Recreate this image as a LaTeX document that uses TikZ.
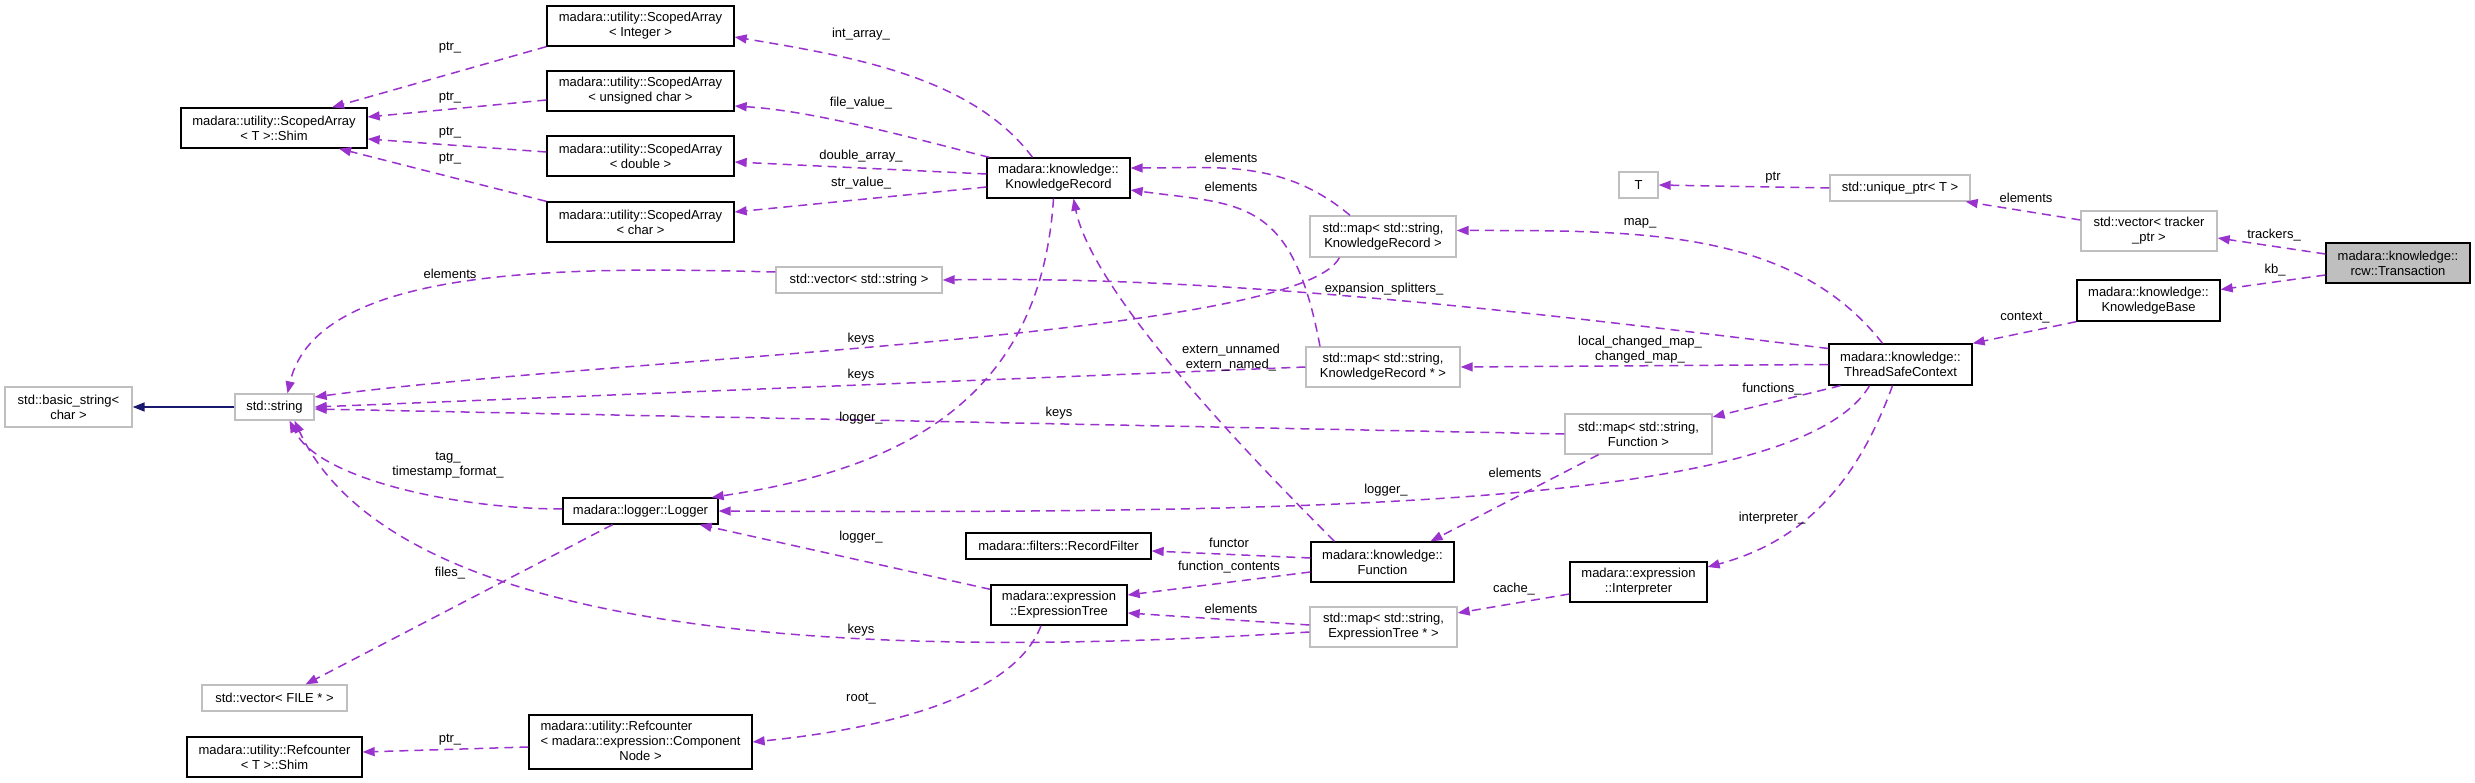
\documentclass[tikz,border=0pt]{standalone}
\usepackage{fontspec}
\setmainfont{Liberation Sans}
\usetikzlibrary{arrows.meta}

\definecolor{edgepurple}{RGB}{154,50,205}
\definecolor{inhblue}{RGB}{25,25,112}
\definecolor{extgray}{RGB}{191,191,191}

\begin{document}
\begin{tikzpicture}[x=1pt, y=1pt, >={Triangle[length=12pt,width=9pt]},
    font=\fontsize{13}{15}\selectfont,
    classbox/.style={rectangle, inner sep=0pt, align=center, minimum height=40, line width=1.3pt},
    cls/.style={classbox, draw=black},
    ext/.style={classbox, draw=extgray},
    cur/.style={classbox, draw=black, fill=extgray},
    uses/.style={->, edgepurple, line width=1.5pt, dash pattern=on 9pt off 6pt},
    inh/.style={->, inhblue, line width=1.5pt},
    lbl/.style={inner sep=0pt, align=center}]
  \useasboundingbox (0,0) rectangle (2475,-783);

  \node[cls, minimum width=187] (saInt) at (640.5,-26) {madara::utility::ScopedArray\\< Integer >};
  \node[cls, minimum width=187] (saUChar) at (640.5,-91) {madara::utility::ScopedArray\\< unsigned char >};
  \node[cls, minimum width=187] (saDouble) at (640.5,-156) {madara::utility::ScopedArray\\< double >};
  \node[cls, minimum width=187] (saChar) at (640.5,-222) {madara::utility::ScopedArray\\< char >};
  \node[cls, minimum width=186] (saShim) at (274,-128) {madara::utility::ScopedArray\\< T >::Shim};
  \node[cls, minimum width=143] (kRecord) at (1058.5,-178) {madara::knowledge::\\KnowledgeRecord};
  \node[ext, minimum width=146, minimum height=41] (mapRec) at (1383,-236.5) {std::map< std::string,\\ KnowledgeRecord >};
  \node[ext, minimum width=39, minimum height=26] (tT) at (1638.5,-185) {T};
  \node[ext, minimum width=140, minimum height=26] (uPtr) at (1900,-188) {std::unique\_ptr< T >};
  \node[ext, minimum width=136] (vecTrk) at (2149,-231) {std::vector< tracker\\\_ptr >};
  \node[cur, minimum width=144] (trans) at (2398,-263) {madara::knowledge::\\rcw::Transaction};
  \node[cls, minimum width=143, minimum height=41] (kBase) at (2148.5,-300.5) {madara::knowledge::\\KnowledgeBase};
  \node[cls, minimum width=143, minimum height=41] (tsc) at (1900.5,-364.5) {madara::knowledge::\\ThreadSafeContext};
  \node[ext, minimum width=166, minimum height=26] (vecStr) at (859,-280) {std::vector< std::string >};
  \node[ext, minimum width=127] (bStr) at (68.5,-407) {std::basic\_string<\\ char >};
  \node[ext, minimum width=79, minimum height=26] (str) at (274.5,-407) {std::string};
  \node[ext, minimum width=154] (mapRecP) at (1383,-367) {std::map< std::string,\\ KnowledgeRecord * >};
  \node[ext, minimum width=147] (mapFn) at (1638.5,-434) {std::map< std::string,\\ Function >};
  \node[cls, minimum width=155, minimum height=26] (logger) at (640.5,-511) {madara::logger::Logger};
  \node[cls, minimum width=185, minimum height=26] (recFilter) at (1058.5,-546) {madara::filters::RecordFilter};
  \node[cls, minimum width=143] (func) at (1382.5,-562) {madara::knowledge::\\Function};
  \node[cls, minimum width=136] (exprTree) at (1059,-605) {madara::expression\\::ExpressionTree};
  \node[cls, minimum width=137] (interp) at (1638.5,-582) {madara::expression\\::Interpreter};
  \node[ext, minimum width=147] (mapExpr) at (1383.5,-627) {std::map< std::string,\\ ExpressionTree * >};
  \node[ext, minimum width=145, minimum height=26] (vecFile) at (274.5,-698) {std::vector< FILE * >};
  \node[cls, minimum width=175] (rcShim) at (274.5,-757) {madara::utility::Refcounter\\< T >::Shim};
  \node[cls, minimum width=223, minimum height=54] (rcNode) at (640.5,-742) {\begin{tabular}{@{}l@{}}madara::utility::Refcounter\\< madara::expression::Component\\\multicolumn{1}{@{}c@{}}{Node >}\end{tabular}};

  \draw[uses] (saInt.south west) -- ([xshift=58]saShim.north);
  \draw[uses] ([yshift=-9]saUChar.west) -- ([yshift=11]saShim.east);
  \draw[uses] ([yshift=4]saDouble.west) -- ([yshift=-11]saShim.east);
  \draw[uses] (saChar.north west) -- ([xshift=65]saShim.south);
  \draw[uses] ([xshift=-26]kRecord.north) .. controls +(-60,80) and +(120,-20) .. ([yshift=-11]saInt.east);
  \draw[uses] ([xshift=3]kRecord.north west) .. controls +(-80,20) and +(80,-5) .. ([yshift=-15]saUChar.east);
  \draw[uses] ([yshift=4]kRecord.west) -- ([yshift=-6]saDouble.east);
  \draw[uses] ([yshift=-9]kRecord.west) -- ([yshift=10]saChar.east);
  \draw[uses] ([xshift=-33]mapRec.north) to[out=140,in=0] ([yshift=10]kRecord.east);
  \draw[uses] ([xshift=-63]mapRecP.north) .. controls +(-28,150) and +(110,-15) .. ([yshift=-12]kRecord.east);
  \draw[uses] ([xshift=-48]func.north) .. controls +(-60,60) and +(20,-100) .. ([xshift=15]kRecord.south);
  \draw[uses] ([xshift=-5]kRecord.south) .. controls +(-13,-202) and +(189,28) .. ([xshift=-7]logger.north east);
  \draw[uses] ([yshift=8]vecStr.west) .. controls +(-200,5) and +(30,130) .. ([xshift=13]str.north);
  \draw[uses] ([xshift=30]mapRec.south west) .. controls +(-40,-80) and +(300,40) .. ([yshift=10]str.east);
  \draw[uses] (mapRecP.west) -- (str.east);
  \draw[uses] (mapFn.west) -- ([yshift=-2]str.east);
  \draw[uses] ([yshift=-5]mapExpr.west) .. controls +(-250,-15) and +(120,-260) .. ([xshift=20]str.south);
  \draw[uses] ([yshift=2]logger.west) .. controls +(-100,0) and +(30,-60) .. ([xshift=15]str.south);
  \draw[inh] (str.west) -- (bStr.east);
  \draw[uses] ([xshift=-18]tsc.north) .. controls +(-90,115) and +(180,0) .. ([yshift=6]mapRec.east);
  \draw[uses] ([yshift=16]tsc.west) .. controls +(-250,30) and +(300,5) .. (vecStr.east);
  \draw[uses] (tsc.west) -- (mapRecP.east);
  \draw[uses] ([xshift=-60]tsc.south) -- ([yshift=17]mapFn.east);
  \draw[uses] ([xshift=-31]tsc.south) .. controls +(-70,-120) and +(600,-3) .. (logger.east);
  \draw[uses] ([xshift=-8]tsc.south) to[out=-110,in=15] ([yshift=15]interp.east);
  \draw[uses] (kBase.south west) -- (tsc.north east);
  \draw[uses] ([yshift=9]trans.west) -- ([yshift=-7]vecTrk.east);
  \draw[uses] ([yshift=-12]trans.west) -- ([yshift=11]kBase.east);
  \draw[uses] ([yshift=11]vecTrk.west) -- ([xshift=-5]uPtr.south east);
  \draw[uses] (uPtr.west) -- (tT.east);
  \draw[uses] ([xshift=-40]mapFn.south) -- ([xshift=48]func.north);
  \draw[uses] ([yshift=4]func.west) -- ([yshift=-5]recFilter.east);
  \draw[uses] ([yshift=-10]func.west) -- ([yshift=10]exprTree.east);
  \draw[uses] ([yshift=-5]exprTree.north west) -- ([xshift=-19]logger.south east);
  \draw[uses] ([yshift=2]mapExpr.west) -- ([yshift=-8]exprTree.east);
  \draw[uses] ([yshift=-12]interp.west) -- ([yshift=14]mapExpr.east);
  \draw[uses] ([xshift=-18]exprTree.south) .. controls +(-30,-80) and +(100,10) .. (rcNode.east);
  \draw[uses] ([yshift=-5]rcNode.west) -- ([yshift=5]rcShim.east);
  \draw[uses] ([xshift=-28]logger.south) -- ([xshift=31]vecFile.north);

  \node[lbl] (lPtrA) at (450,-48) {ptr\_};
  \node[lbl] (lPtrB) at (450,-98) {ptr\_};
  \node[lbl] (lPtrC) at (450,-133) {ptr\_};
  \node[lbl] (lPtrD) at (450,-159) {ptr\_};
  \node[lbl] (lIntArr) at (861,-34) {int\_array\_};
  \node[lbl] (lFileVal) at (861,-103) {file\_value\_};
  \node[lbl] (lDblArr) at (861,-156) {double\_array\_};
  \node[lbl] (lStrVal) at (861,-183) {str\_value\_};
  \node[lbl] (lElemA) at (1231,-158) {elements};
  \node[lbl] (lElemB) at (1231,-187) {elements};
  \node[lbl] (lMap) at (1640,-223) {map\_};
  \node[lbl] (lPtrE) at (1773,-178) {ptr};
  \node[lbl] (lElemC) at (2026,-198) {elements};
  \node[lbl] (lTrk) at (2274,-235) {trackers\_};
  \node[lbl] (lKb) at (2275,-270) {kb\_};
  \node[lbl] (lCtx) at (2025,-318) {context\_};
  \node[lbl] (lElemD) at (450,-274) {elements};
  \node[lbl] (lTag) at (448,-465) {tag\_\\timestamp\_format\_};
  \node[lbl] (lExp) at (1384,-289) {expansion\_splitters\_};
  \node[lbl] (lKeysA) at (861,-339) {keys};
  \node[lbl] (lKeysB) at (861,-375) {keys};
  \node[lbl] (lKeysC) at (1059,-413) {keys};
  \node[lbl] (lLogA) at (861,-418) {logger\_};
  \node[lbl] (lExt) at (1231,-358) {extern\_unnamed\\extern\_named\_};
  \node[lbl] (lChg) at (1640,-350) {local\_changed\_map\_\\changed\_map\_};
  \node[lbl] (lElemE) at (1515,-473) {elements};
  \node[lbl] (lLogB) at (1386,-490) {logger\_};
  \node[lbl] (lFns) at (1772,-389) {functions\_};
  \node[lbl] (lInterp) at (1772,-518) {interpreter\_};
  \node[lbl] (lFiles) at (450,-573) {files\_};
  \node[lbl] (lPtrF) at (450,-740) {ptr\_};
  \node[lbl] (lLogC) at (861,-537) {logger\_};
  \node[lbl] (lFunctor) at (1229,-543) {functor};
  \node[lbl] (lFnCont) at (1229,-567) {function\_contents};
  \node[lbl] (lElemF) at (1231,-609) {elements};
  \node[lbl] (lKeysD) at (861,-630) {keys};
  \node[lbl] (lCache) at (1514,-589) {cache\_};
  \node[lbl] (lRoot) at (861,-699) {root\_};
\end{tikzpicture}
\end{document}
